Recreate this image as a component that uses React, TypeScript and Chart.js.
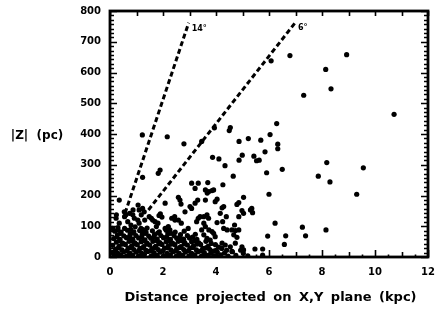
import React, { useEffect, useRef } from "react";
import { Chart, registerables } from "chart.js";

Chart.register(...registerables);

// Axis ticks / labels
const xTickValues = [0, 2, 4, 6, 8, 10, 12];
const xTickLabels = ["0", "2", "4", "6", "8", "10", "12"];
const yTickValues = [0, 100, 200, 300, 400, 500, 600, 700, 800];
const yTickLabels = ["0", "100", "200", "300", "400", "500", "600", "700", "800"];

// Reference lines (inclination angles)
const line14: [number, number][] = [[0.57, 143], [2.97, 762]];
const line6: [number, number][] = [[1.45, 153], [6.98, 761]];
const angleLabels = ["14°", "6°"];

// Sparse stars (kpc, pc)
const sparsePoints: [number, number][] = [
  [1.22, 397], [2.16, 391], [2.79, 368], [3.46, 376], [3.94, 420], [4.5, 411], [4.54, 421],
  [4.87, 376], [5.22, 385], [5.69, 380], [6.04, 398], [6.29, 434], [6.33, 367], [6.33, 352],
  [5.85, 342], [4.99, 331], [5.43, 328], [3.87, 324], [4.11, 319], [4.87, 315], [5.53, 313],
  [5.63, 315], [6.79, 655], [6.08, 638], [8.93, 658], [8.14, 610], [8.34, 547], [7.31, 526],
  [10.72, 464], [4.34, 297], [4.65, 263], [5.91, 274], [6.5, 285], [8.18, 307], [9.56, 290],
  [7.86, 263], [8.3, 244], [9.31, 204], [6.0, 204], [6.23, 110], [7.26, 97], [7.38, 69],
  [8.15, 88], [6.63, 69], [5.95, 68], [6.58, 41], [5.47, 26], [5.76, 26], [5.03, 12], [5.76, 6],
  [5.35, 158], [5.38, 144], [1.23, 259], [1.82, 272], [1.89, 283], [3.08, 240], [3.33, 240],
  [3.69, 242], [3.21, 223], [4.26, 235],
  [3.6, 218], [3.67, 208], [3.73, 213], [3.85, 216], [3.91, 218],
  [4.04, 188], [3.97, 180], [3.6, 185], [5.04, 194], [4.86, 177], [4.79, 171], [4.98, 151],
  [5.04, 142], [4.23, 160], [4.29, 164], [4.16, 142], [5.3, 153], [4.86, 131], [3.54, 131],
  [3.66, 137], [3.72, 126], [4.04, 112],
  [3.54, 110], [3.6, 99], [3.73, 88], [3.85, 83], [3.91, 77], [4.29, 93], [4.42, 88], [4.6, 88],
  [4.73, 86], [4.86, 88], [4.67, 72], [4.79, 64], [4.39, 131], [4.7, 104], [4.25, 115],
  [3.54, 72], [3.66, 61], [3.78, 55], [3.97, 66], [4.23, 45], [4.35, 39], [4.54, 33], [4.73, 45],
  [4.98, 33], [5.04, 23], [4.93, 22], [4.6, 18],
  [2.58, 194], [2.64, 185], [2.08, 175], [2.68, 172], [3.02, 164], [3.31, 185], [3.21, 175],
  [3.08, 158], [2.83, 147], [1.9, 140], [1.96, 130], [1.85, 135], [2.33, 126], [2.45, 120],
  [2.58, 120], [3.33, 126], [3.27, 115], [3.4, 131], [2.95, 93], [3.46, 88], [2.08, 93],
  [2.2, 99], [2.26, 88], [1.7, 115],
  [0.35, 185], [0.24, 137], [0.55, 131], [0.74, 142], [0.87, 153], [1.06, 169], [1.23, 158],
  [1.1, 153], [1.29, 147], [0.54, 147], [0.6, 137], [0.86, 137], [0.92, 126], [1.05, 120],
  [0.23, 126], [0.35, 110], [0.67, 115], [0.79, 104], [0.1, 93], [1.1, 110], [1.17, 93],
  [1.48, 131], [1.61, 120], [1.18, 137], [1.31, 120], [1.56, 126], [2.44, 131], [2.69, 110],
  [1.81, 110],
];

// Dense concentration near the plane (kpc, pc)
const densePoints: [number, number][] = [
  [0.15, 4], [0.4, 7], [0.62, 3], [0.85, 6], [1.08, 4], [1.3, 8], [1.55, 3], [1.78, 6], [2.02, 4],
  [2.28, 7], [2.5, 3], [2.74, 6], [2.98, 4], [3.2, 7], [3.45, 3], [3.68, 5], [3.92, 4], [4.18, 7],
  [4.45, 3], [4.75, 5], [5.2, 4],
  [0.1, 15], [0.3, 12], [0.52, 17], [0.75, 13], [0.98, 16], [1.2, 12], [1.43, 18], [1.66, 14],
  [1.9, 16], [2.15, 12], [2.38, 17], [2.6, 13], [2.85, 16], [3.08, 12], [3.32, 17], [3.56, 14],
  [3.8, 12], [4.05, 16], [4.32, 13], [4.62, 17],
  [0.22, 26], [0.45, 23], [0.68, 29], [0.9, 24], [1.13, 28], [1.36, 22], [1.58, 27], [1.82, 24],
  [2.06, 29], [2.3, 23], [2.52, 27], [2.78, 24], [3.02, 29], [3.26, 23], [3.5, 28], [3.76, 25],
  [4.0, 22], [4.22, 28],
  [0.1, 38], [0.34, 35], [0.58, 41], [0.82, 36], [1.03, 40], [1.27, 34], [1.5, 39], [1.72, 35],
  [1.96, 41], [2.2, 36], [2.45, 40], [2.68, 34], [2.92, 39], [3.15, 36], [3.42, 41], [3.7, 35],
  [3.98, 40],
  [0.24, 48], [0.48, 45], [0.72, 51], [0.94, 46], [1.18, 50], [1.4, 45], [1.62, 51], [1.88, 47],
  [2.12, 50], [2.36, 45], [2.58, 51], [2.82, 47], [3.08, 50], [3.35, 46], [3.62, 51],
  [0.14, 60], [0.38, 57], [0.62, 63], [0.86, 58], [1.08, 62], [1.32, 56], [1.54, 61], [1.78, 58],
  [2.02, 63], [2.28, 57], [2.52, 61], [2.78, 58], [3.0, 62], [3.28, 57],
  [0.28, 72], [0.52, 69], [0.76, 75], [0.98, 70], [1.22, 74], [1.46, 68], [1.68, 73], [1.92, 70],
  [2.18, 75], [2.42, 69], [2.66, 73], [2.92, 70], [3.22, 74],
  [0.18, 84], [0.42, 81], [0.66, 87], [0.9, 82], [1.12, 86], [1.36, 80], [1.6, 85], [1.86, 82],
  [2.12, 87], [2.46, 81], [2.8, 84],
  [0.3, 96], [0.55, 93], [0.95, 98], [1.4, 94], [1.75, 99],
  [0.28, 8], [0.74, 9], [1.19, 2], [1.66, 9], [2.14, 2], [2.62, 9], [3.1, 2], [3.56, 9], [4.04, 2],
  [0.2, 20], [0.64, 20], [1.09, 21], [1.54, 20], [2.0, 21], [2.48, 20], [2.96, 21], [3.44, 20],
  [3.9, 19], [4.4, 22],
  [0.33, 30], [0.79, 31], [1.25, 30], [1.7, 31], [2.18, 30], [2.64, 31], [3.12, 31], [3.62, 30],
  [4.1, 32], [0.46, 42], [0.92, 43], [1.39, 42], [1.84, 43], [2.32, 42], [2.8, 43], [3.28, 42],
  [3.82, 44], [0.36, 53], [0.84, 54], [1.29, 53], [1.76, 54], [2.24, 53], [2.7, 54], [3.2, 53],
  [0.25, 65], [0.74, 66], [1.2, 65], [1.66, 66], [2.14, 65], [2.64, 66], [3.12, 65],
  [0.4, 77], [0.88, 78], [1.34, 77], [1.8, 78], [2.3, 77], [0.3, 88], [0.78, 90], [1.24, 89],
];

const FONT = '"DejaVu Sans", "Liberation Sans", sans-serif';

const framePlugin = {
  id: "framePlugin",
  afterDraw(chart: any) {
    const { ctx, chartArea, scales } = chart;
    const { left, right, top, bottom } = chartArea;
    const xs = scales.x;
    const ys = scales.y;
    ctx.save();
    ctx.strokeStyle = "#000";
    ctx.fillStyle = "#000";
    ctx.setLineDash([]);
    ctx.lineWidth = 2.8;
    ctx.strokeRect(left, top, right - left, bottom - top);
    ctx.lineWidth = 1.6;
    ctx.beginPath();
    for (let i = 0; i <= 56; i++) {
      const v = (i * 100) / 7;
      const py = Math.round(ys.getPixelForValue(v)) + 0.5;
      const len = i % 7 === 0 ? 7 : 4;
      ctx.moveTo(left, py);
      ctx.lineTo(left + len, py);
      ctx.moveTo(right, py);
      ctx.lineTo(right - len, py);
    }
    for (let i = 0; i <= 24; i++) {
      const v = i / 2;
      const px = Math.round(xs.getPixelForValue(v)) + 0.5;
      const lenB = i % 4 === 0 ? 7 : i % 2 === 0 ? 5 : 2.5;
      ctx.moveTo(px, bottom);
      ctx.lineTo(px, bottom - lenB);
      if (i % 2 === 0) {
        ctx.moveTo(px, top);
        ctx.lineTo(px, top + 5);
      }
    }
    ctx.stroke();

    ctx.font = `bold 10px ${FONT}`;
    ctx.textBaseline = "middle";
    ctx.textAlign = "right";
    yTickValues.forEach((v, i) => {
      ctx.fillText(yTickLabels[i], 101, ys.getPixelForValue(v));
    });
    ctx.textAlign = "center";
    xTickValues.forEach((v, i) => {
      ctx.fillText(xTickLabels[i], xs.getPixelForValue(v), 272);
    });

    ctx.font = `bold 12px ${FONT}`;
    ctx.textAlign = "center";
    ctx.fillText("|Z|  (pc)", 37, 136);
    ctx.font = `bold 13px ${FONT}`;
    try { (ctx as any).wordSpacing = "3px"; } catch (e) {}
    ctx.fillText("Distance projected on X,Y plane (kpc)", 270.5, 298);
    try { (ctx as any).wordSpacing = "0px"; } catch (e) {}

    ctx.font = `bold 8px ${FONT}`;
    ctx.textAlign = "left";
    const e14 = line14[line14.length - 1];
    const e6 = line6[line6.length - 1];
    ctx.fillText(angleLabels[0], xs.getPixelForValue(e14[0]) + 3, ys.getPixelForValue(e14[1]) + 6);
    ctx.fillText(angleLabels[1], xs.getPixelForValue(e6[0]) + 3, ys.getPixelForValue(e6[1]) + 5);
    ctx.restore();
  },
};

export default function App() {
  const canvasRef = useRef<HTMLCanvasElement | null>(null);

  useEffect(() => {
    document.body.style.margin = "0";
    const canvas = canvasRef.current;
    if (!canvas) return;
    const toXY = (arr: [number, number][]) => arr.map(([x, y]) => ({ x, y }));
    const chart = new Chart(canvas, {
      type: "scatter",
      data: {
        datasets: [
          {
            data: toXY([...densePoints, ...sparsePoints]),
            backgroundColor: "#000",
            borderColor: "#000",
            borderWidth: 0,
            pointRadius: 2.6,
          },
          { data: toXY(line14), showLine: true, borderColor: "#000", borderWidth: 3, borderDash: [5, 3], pointRadius: 0 },
          { data: toXY(line6), showLine: true, borderColor: "#000", borderWidth: 3, borderDash: [5, 3], pointRadius: 0 },
        ],
      },
      options: {
        animation: false,
        responsive: false,
        devicePixelRatio: 1,
        layout: { padding: { left: 110, top: 11, right: 7, bottom: 54 } },
        plugins: { legend: { display: false }, tooltip: { enabled: false } },
        scales: {
          x: { type: "linear", min: 0, max: 12, display: false },
          y: { type: "linear", min: 0, max: 800, display: false },
        },
      },
      plugins: [framePlugin],
    });
    return () => chart.destroy();
  }, []);

  return (
    <div style={{ width: 435, height: 311, background: "#fff" }}>
      <canvas ref={canvasRef} width={435} height={311} style={{ display: "block" }} />
    </div>
  );
}
